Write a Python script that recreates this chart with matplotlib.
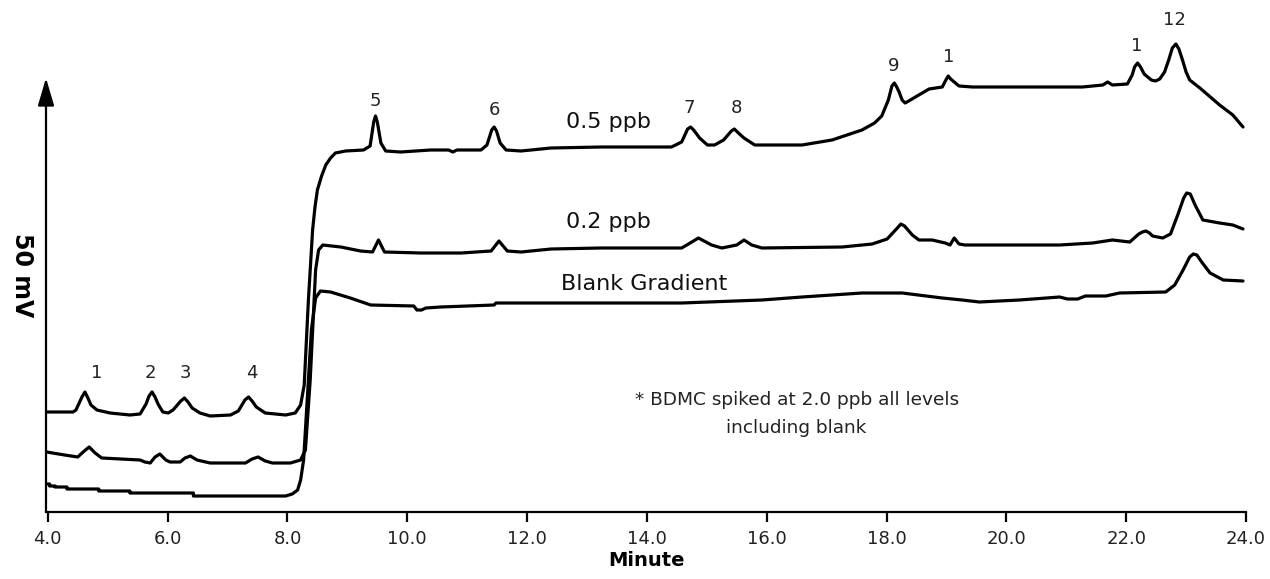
import matplotlib
matplotlib.use("Agg")
import matplotlib.pyplot as plt

# ---- data (time in minutes, signal in arbitrary units) ----
time_05 = [3.98, 4.42, 4.47, 4.57, 4.62, 4.67, 4.72, 4.82, 5.04, 5.37, 5.54, 5.64, 5.69, 5.74, 5.79,
           5.84, 5.92, 6.01, 6.09, 6.22, 6.28, 6.34, 6.41, 6.54, 6.71, 7.05, 7.18, 7.29, 7.35, 7.41,
           7.48, 7.63, 7.97, 8.13, 8.22, 8.28, 8.35, 8.42, 8.46, 8.50, 8.57, 8.64, 8.72, 8.80, 8.97,
           9.27, 9.38, 9.44, 9.47, 9.50, 9.56, 9.64, 9.89, 10.39, 10.69, 10.76, 10.83, 11.23, 11.33,
           11.41, 11.45, 11.49, 11.55, 11.65, 11.90, 12.40, 13.24, 14.41, 14.58, 14.68, 14.73, 14.78,
           14.88, 15.01, 15.13, 15.28, 15.41, 15.46, 15.51, 15.62, 15.80, 16.59, 17.09, 17.59, 17.80,
           17.92, 18.03, 18.09, 18.13, 18.17, 18.21, 18.26, 18.31, 18.37, 18.51, 18.71, 18.93, 18.99,
           19.03, 19.07, 19.11, 19.21, 19.43, 21.27, 21.61, 21.69, 21.77, 22.02, 22.10, 22.14, 22.19,
           22.24, 22.30, 22.42, 22.49, 22.56, 22.64, 22.71, 22.77, 22.83, 22.88, 22.94, 23.00, 23.06,
           23.23, 23.56, 23.78, 23.95]
sig_05 = [100, 100, 102, 115, 120, 114, 107, 102, 99, 97, 98, 108, 116, 120, 115,
          108, 100, 99, 102, 111, 114, 110, 104, 99, 96, 97, 101, 112, 115, 111,
          105, 99, 97, 99, 107, 127, 212, 282, 305, 322, 336, 347, 354, 359, 361,
          362, 366, 390, 396, 390, 369, 361, 360, 362, 362, 360, 362, 362, 367,
          382, 385, 381, 369, 362, 361, 364, 365, 365, 370, 383, 385, 382,
          374, 367, 367, 372, 381, 383, 380, 374, 367, 367, 372, 382, 389,
          396, 412, 426, 429, 425, 420, 412, 409, 411, 416, 423, 425, 432,
          436, 433, 431, 426, 425, 425, 427, 430, 427, 428, 437, 445, 449,
          445, 438, 432, 431, 433, 440, 452, 464, 468, 463, 452, 440, 432,
          424, 407, 397, 385]

time_02 = [3.98, 4.28, 4.50, 4.59, 4.69, 4.79, 4.90, 5.54, 5.62, 5.71, 5.79, 5.87, 5.97, 6.04, 6.21,
           6.29, 6.38, 6.49, 6.71, 7.30, 7.41, 7.51, 7.63, 7.75, 8.05, 8.22, 8.30, 8.38, 8.47, 8.52,
           8.59, 8.89, 9.22, 9.42, 9.52, 9.62, 10.23, 10.90, 11.40, 11.53, 11.67, 11.90, 12.40, 13.24,
           14.58, 14.75, 14.86, 15.08, 15.25, 15.50, 15.62, 15.75, 15.92, 17.26, 17.76, 18.01, 18.18,
           18.24, 18.30, 18.43, 18.54, 18.76, 18.98, 19.06, 19.13, 19.21, 19.31, 20.89, 21.44, 21.77,
           22.06, 22.21, 22.27, 22.33, 22.39, 22.44, 22.61, 22.74, 22.86, 22.96, 23.01, 23.07, 23.15,
           23.28, 23.56, 23.78, 23.95]
sig_02 = [60, 57, 55, 60, 65, 59, 54, 52, 50, 49, 55, 58, 52, 50, 50,
          54, 56, 52, 49, 49, 53, 55, 51, 49, 49, 52, 62, 132, 242, 262,
          267, 265, 261, 260, 272, 260, 259, 259, 261, 271, 261, 260, 263, 264,
          264, 270, 274, 267, 264, 267, 272, 267, 264, 265, 268, 273, 284,
          288, 286, 277, 272, 272, 269, 267, 274, 268, 267, 267, 269, 272,
          270, 278, 280, 281, 279, 276, 274, 278, 297, 314, 319, 318, 307,
          292, 289, 287, 283]

time_blank = [3.98, 4.03, 4.03, 4.12, 4.12, 4.32, 4.32, 4.85, 4.85, 5.37, 5.37, 6.43, 6.43, 7.97,
              8.08, 8.17, 8.22, 8.27, 8.33, 8.40, 8.47, 8.55, 8.72, 9.05, 9.39, 10.11, 10.16, 10.24,
              10.31, 10.56, 11.45, 11.48, 14.58, 15.92, 16.59, 17.59, 18.26, 18.93, 19.26, 19.55,
              20.22, 20.89, 21.02, 21.19, 21.32, 21.66, 21.89, 22.66, 22.81, 22.95, 23.06, 23.12,
              23.18, 23.26, 23.40, 23.62, 23.95]
sig_blank = [28, 28, 26, 26, 25, 25, 23, 23, 21, 21, 19, 19, 16, 16,
             18, 22, 32, 52, 112, 182, 214, 221, 220, 214, 207, 206, 202, 202,
             204, 205, 207, 209, 209, 212, 215, 219, 219, 214, 212, 210,
             212, 215, 213, 213, 216, 216, 219, 220, 227, 242, 255, 258,
             257, 250, 239, 232, 231]

peak_labels = ["1", "2", "3", "4", "5", "6", "7", "8", "9", "1", "1", "12"]
peak_label_t = [4.82, 5.71, 6.29, 7.41, 9.47, 11.45, 14.71, 15.50, 18.11, 19.03, 22.18, 22.81]
peak_label_y = [139, 139, 139, 139, 411, 402, 404, 404, 446, 455, 466, 492]

trace_names = ["0.5 ppb", "0.2 ppb", "Blank Gradient"]
trace_name_t = [13.36, 13.36, 13.96]
trace_name_y = [390, 290, 228]

note_lines = ["* BDMC spiked at 2.0 ppb all levels", "including blank"]
xticks = [4, 6, 8, 10, 12, 14, 16, 18, 20, 22, 24]

# ---- figure ----
plt.rcParams['font.family'] = ['DejaVu Sans']
fig = plt.figure(figsize=(12.7, 5.79), dpi=100)
W, H = 1270, 579
ax = fig.add_axes([46 / W, (H - 512) / H, (1246 - 46) / W, 512 / H])
ax.set_xlim(3.97, 24.0)
ax.set_ylim(0, 512)

lw = 2.3
for t, s in [(time_05, sig_05), (time_02, sig_02), (time_blank, sig_blank)]:
    ax.plot(t, s, color='black', lw=lw, solid_joinstyle='round', solid_capstyle='round')

for lab, t, y in zip(peak_labels, peak_label_t, peak_label_y):
    ax.text(t, y, lab, ha='center', va='center', fontsize=13, color='#222222')

for lab, t, y in zip(trace_names, trace_name_t, trace_name_y):
    ax.text(t, y, lab, ha='center', va='center', fontsize=16, color='#111111')

ax.text(16.5, 112, note_lines[0], ha='center', va='center', fontsize=13.3, color='#222222')
ax.text(16.5, 84, note_lines[1], ha='center', va='center', fontsize=13.3, color='#222222')

# axes styling
for sp in ['top', 'right', 'left']:
    ax.spines[sp].set_visible(False)
ax.spines['bottom'].set_linewidth(1.6)
ax.spines['bottom'].set_bounds(3.97, 24.0)
ax.set_yticks([])
ax.set_xticks(xticks)
ax.set_xticklabels([f"{v:.1f}" for v in xticks])
ax.tick_params(axis='x', direction='out', length=7, width=1.6, labelsize=13, pad=6, colors='black')
for lbl in ax.get_xticklabels():
    lbl.set_color('#222222')

# y axis with arrow
ax.annotate('', xy=(3.97, 434), xytext=(3.97, 0),
            arrowprops=dict(arrowstyle='-|>,head_length=0.85,head_width=0.25', lw=1.6,
                            color='black', mutation_scale=20, shrinkA=0, shrinkB=0),
            annotation_clip=False)

ax.set_xlabel("Minute", fontsize=14, fontweight='bold', labelpad=2)
fig.text(22 / W, 1 - 275 / H, "50 mV", rotation=270, ha='center', va='center',
         fontsize=17, fontweight='bold')

fig.savefig("out.png", dpi=100)
